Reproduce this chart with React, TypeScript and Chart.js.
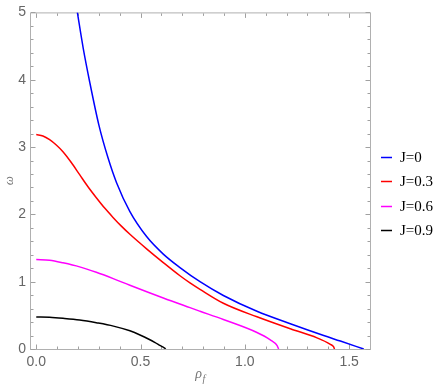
import React, { useEffect, useRef } from "react";
import { Chart, registerables } from "chart.js";

Chart.register(...registerables);

// ---- data ----
const seriesLabels = ["J=0", "J=0.3", "J=0.6", "J=0.9"];

const rhoJ0 = [0.197, 0.225, 0.256, 0.3, 0.344, 0.385, 0.449, 0.529, 0.609, 0.689, 0.785, 0.897, 1.058, 1.218, 1.378, 1.458, 1.57];
const omegaJ0 = [5.0, 4.47, 3.97, 3.33, 2.84, 2.47, 2.04, 1.67, 1.41, 1.21, 1.0, 0.795, 0.56, 0.375, 0.2, 0.118, 0.0];

const rhoJ03 = [0, 0.032, 0.064, 0.096, 0.128, 0.168, 0.208, 0.248, 0.288, 0.328, 0.368, 0.408, 0.449, 0.529, 0.609, 0.689, 0.737, 0.785, 0.897, 1.058, 1.218, 1.346, 1.41, 1.425, 1.43];
const omegaJ03 = [3.185, 3.165, 3.11, 3.03, 2.93, 2.77, 2.59, 2.41, 2.247, 2.093, 1.955, 1.825, 1.704, 1.488, 1.284, 1.088, 0.982, 0.886, 0.679, 0.478, 0.3, 0.166, 0.07, 0.035, 0.0];

const rhoJ06 = [0, 0.064, 0.128, 0.208, 0.288, 0.369, 0.449, 0.609, 0.737, 0.785, 0.897, 1.058, 1.122, 1.154, 1.162];
const omegaJ06 = [1.33, 1.318, 1.28, 1.22, 1.139, 1.045, 0.946, 0.757, 0.614, 0.561, 0.438, 0.245, 0.136, 0.053, 0.0];

const rhoJ09 = [0, 0.064, 0.128, 0.208, 0.288, 0.37, 0.449, 0.5, 0.54, 0.57, 0.595, 0.61, 0.618, 0.62];
const omegaJ09 = [0.475, 0.47, 0.455, 0.43, 0.39, 0.34, 0.27, 0.205, 0.145, 0.095, 0.05, 0.025, 0.008, 0.0];

const xMajorTicks = [0, 0.5, 1.0, 1.5];
const xTickLabels = ["0.0", "0.5", "1.0", "1.5"];
const yMajorTicks = [0, 1, 2, 3, 4, 5];
const yTickLabels = ["0", "1", "2", "3", "4", "5"];

const xAxisTitle = "ρ";
const xAxisSub = "f";
const yAxisTitle = "ω";

const colors = ["#0000ff", "#ff0000", "#ff00ff", "#000000"];

function toPoints(xs: number[], ys: number[]) {
  return xs.map((v, i) => ({ x: v, y: ys[i] }));
}

function minorTicks(from: number, to: number, step: number) {
  const out: number[] = [];
  const n = Math.round((to - from) / step);
  for (let i = 0; i <= n; i++) out.push(Math.round((from + i * step) * 1000) / 1000);
  return out;
}

function labelFor(v: number, majors: number[], labels: string[]) {
  const idx = majors.findIndex((m) => Math.abs(m - v) < 1e-6);
  return idx >= 0 ? labels[idx] : "";
}

const framePlugin = {
  id: "mmaFrame",
  beforeDatasetsDraw(chart: any) {
    const { ctx, chartArea } = chart;
    const { left, right, top, bottom } = chartArea;
    const xs = chart.scales.x;
    const ys = chart.scales.y;
    ctx.save();
    ctx.strokeStyle = "#b0b0b0";
    ctx.lineWidth = 1;
    ctx.strokeRect(left + 0.5, top + 0.5, right - left, bottom - top);
    ctx.strokeStyle = "#a0a0a0";
    ctx.beginPath();
    xs.ticks.forEach((t: any) => {
      const major = xMajorTicks.some((m) => Math.abs(m - t.value) < 1e-6);
      const len = major ? 4.5 : 2.5;
      const px = Math.round(xs.getPixelForValue(t.value)) + 0.5;
      ctx.moveTo(px, bottom);
      ctx.lineTo(px, bottom - len);
      ctx.moveTo(px, top + 1);
      ctx.lineTo(px, top + 1 + len);
    });
    ys.ticks.forEach((t: any) => {
      const major = yMajorTicks.some((m) => Math.abs(m - t.value) < 1e-6);
      const len = major ? 4.5 : 2.5;
      const py = Math.round(ys.getPixelForValue(t.value)) + 0.5;
      ctx.moveTo(left + 1, py);
      ctx.lineTo(left + 1 + len, py);
      ctx.moveTo(right, py);
      ctx.lineTo(right - len, py);
    });
    ctx.stroke();
    ctx.restore();
  },
  afterDraw(chart: any) {
    const { ctx, chartArea } = chart;
    const { left, right, top, bottom } = chartArea;
    ctx.save();
    // axis titles
    ctx.fillStyle = "#777777";
    ctx.textBaseline = "middle";
    ctx.textAlign = "left";
    const cx = (left + right) / 2;
    ctx.font = "italic 14px 'Liberation Serif'";
    const w1 = ctx.measureText(xAxisTitle).width;
    ctx.font = "italic 10px 'Liberation Serif'";
    const w2 = ctx.measureText(xAxisSub).width;
    const startX = cx - (w1 + w2) / 2;
    ctx.font = "italic 14px 'Liberation Serif'";
    ctx.fillText(xAxisTitle, startX, 374);
    ctx.font = "italic 10px 'Liberation Serif'";
    ctx.fillText(xAxisSub, startX + w1 + 0.5, 379);

    ctx.save();
    ctx.translate(9.5, (top + bottom) / 2);
    ctx.rotate(-Math.PI / 2);
    ctx.textAlign = "center";
    ctx.font = "italic 13px 'Liberation Serif'";
    ctx.fillText(yAxisTitle, 0, 0);
    ctx.restore();

    // legend
    const lx = 381;
    const ly0 = 157;
    const dy = 24.3;
    chart.data.datasets.forEach((ds: any, i: number) => {
      const y = Math.round(ly0 + i * dy) + 0.5;
      ctx.strokeStyle = ds.borderColor;
      ctx.lineWidth = 1.5;
      ctx.beginPath();
      ctx.moveTo(lx, y);
      ctx.lineTo(lx + 11, y);
      ctx.stroke();
      ctx.fillStyle = "#000000";
      ctx.font = "15px 'Liberation Serif'";
      ctx.textAlign = "left";
      ctx.textBaseline = "middle";
      ctx.fillText(ds.label, lx + 19, y + 0.5);
    });
    ctx.restore();
  },
};

export default function App() {
  const ref = useRef<HTMLCanvasElement | null>(null);

  useEffect(() => {
    document.body.style.margin = "0";
    if (!ref.current) return;
    const datasets = [
      toPoints(rhoJ0, omegaJ0),
      toPoints(rhoJ03, omegaJ03),
      toPoints(rhoJ06, omegaJ06),
      toPoints(rhoJ09, omegaJ09),
    ].map((pts, i) => ({
      label: seriesLabels[i],
      data: pts,
      borderColor: colors[i],
      backgroundColor: colors[i],
      borderWidth: 1.5,
      pointRadius: 0,
      fill: false,
      cubicInterpolationMode: "monotone" as const,
      tension: 0.4,
    }));

    const chart = new Chart(ref.current, {
      type: "line",
      data: { datasets },
      options: {
        animation: false,
        responsive: false,
        devicePixelRatio: 1,
        layout: { padding: { top: 9, right: 66, left: 0, bottom: 0 } },
        plugins: {
          legend: { display: false },
          tooltip: { enabled: false },
        },
        scales: {
          x: {
            type: "linear",
            min: -0.03,
            max: 1.6,
            grid: { display: false, drawTicks: false },
            border: { display: false },
            afterBuildTicks: (scale: any) => {
              scale.ticks = minorTicks(0, 1.5, 0.1).map((v) => ({ value: v }));
            },
            afterFit: (scale: any) => {
              scale.height = 41;
            },
            ticks: {
              autoSkip: false,
              maxRotation: 0,
              padding: 5,
              color: "#666666",
              font: { family: "'Liberation Sans'", size: 14 },
              callback: (v: any) => labelFor(Number(v), xMajorTicks, xTickLabels),
            },
          },
          y: {
            type: "linear",
            min: 0,
            max: 5,
            grid: { display: false, drawTicks: false },
            border: { display: false },
            afterBuildTicks: (scale: any) => {
              scale.ticks = minorTicks(0, 5, 0.2).map((v) => ({ value: v }));
            },
            afterFit: (scale: any) => {
              scale.width = 30;
            },
            ticks: {
              autoSkip: false,
              padding: 4,
              color: "#666666",
              font: { family: "'Liberation Sans'", size: 14 },
              callback: (v: any) => labelFor(Number(v), yMajorTicks, yTickLabels),
            },
          },
        },
      },
      plugins: [framePlugin],
    });
    return () => chart.destroy();
  }, []);

  return (
    <div style={{ width: 436, height: 390 }}>
      <canvas ref={ref} width={436} height={390} style={{ display: "block" }} />
    </div>
  );
}
